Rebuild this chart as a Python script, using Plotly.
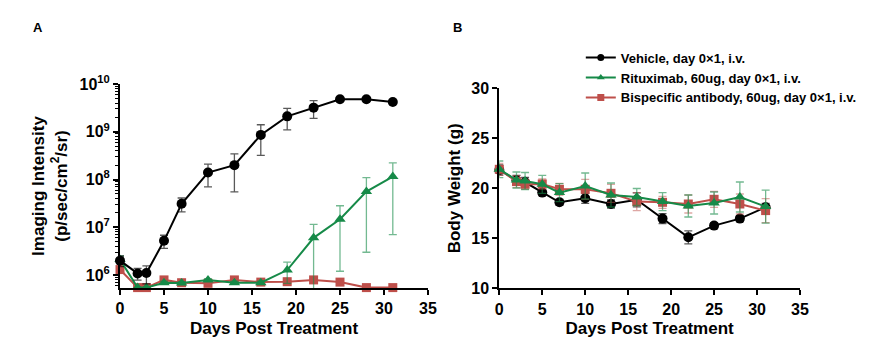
import plotly.graph_objects as go

days = [0, 2, 3, 5, 7, 10, 13, 16, 19, 22, 25, 28, 31]

# Panel A: imaging intensity (p/sec/cm2/sr)
veh_img = [2.0e6, 1.08e6, 1.1e6, 5.2e6, 3.1e7, 1.4e8, 2.0e8, 8.6e8, 2.1e9, 3.2e9, 4.8e9, 4.8e9, 4.2e9]
veh_img_err = [0.5e6, 0.3e6, 0.45e6, 1.6e6, 1.0e7, 7.0e7, 1.45e8, 5.4e8, 1.0e9, 1.3e9, 0.2e9, 0.2e9, 0.2e9]
rit_img = [2.1e6, 5.45e5, 5.45e5, 6.9e5, 6.8e5, 7.85e5, 6.9e5, 6.9e5, 1.27e6, 6.0e6, 1.47e7, 5.6e7, 1.15e8]
rit_img_err = [0.4e6, 0, 0, 0.05e6, 0.05e6, 0.05e6, 0.05e6, 0.05e6, 0.6e6, 5.5e6, 1.35e7, 5.3e7, 1.08e8]
bis_img = [1.3e6, 5.45e5, 5.45e5, 7.9e5, 6.9e5, 6.7e5, 7.9e5, 7.1e5, 7.25e5, 7.9e5, 7.1e5, 5.45e5, 5.45e5]
bis_img_err = [0.1e6, 0, 0, 0.05e6, 0.05e6, 0.05e6, 0.05e6, 0.05e6, 0.05e6, 0.05e6, 0.05e6, 0, 0]

# Panel B: body weight (g)
veh_bw = [21.83, 20.8, 20.6, 19.57, 18.6, 19.0, 18.43, 18.85, 16.97, 15.1, 16.27, 16.97, 18.1]
veh_bw_err = [0.5, 0.5, 0.5, 0.3, 0.3, 0.5, 0.4, 0.7, 0.5, 0.65, 0.3, 0.3, 0.4]
rit_bw = [21.9, 20.83, 20.73, 20.4, 19.57, 20.23, 19.33, 19.13, 18.67, 18.23, 18.53, 19.13, 18.17]
rit_bw_err = [0.83, 0.8, 0.85, 0.9, 0.9, 1.3, 1.2, 0.85, 0.9, 1.1, 1.1, 1.5, 1.65]
bis_bw = [21.9, 20.67, 20.4, 20.43, 19.9, 19.9, 19.5, 18.67, 18.6, 18.43, 18.9, 18.43, 17.77]
bis_bw_err = [0.6, 0.6, 0.5, 0.5, 0.6, 1.0, 0.9, 0.9, 0.6, 0.9, 0.8, 1.0, 1.2]

names = ["Vehicle, day 0\u00d71, i.v.",
         "Rituximab, 60ug, day 0\u00d71, i.v.",
         "Bispecific antibody, 60ug, day 0\u00d71, i.v."]
colors = ["#000000", "#168A48", "#BE4F4A"]
err_colors = ["rgba(0,0,0,0.65)", "rgba(22,138,72,0.6)", "rgba(190,79,74,0.5)"]
symbols = ["circle", "triangle-up", "square"]
msizes = [10, 10, 9]

x_ticks = [0, 5, 10, 15, 20, 25, 30, 35]
log_ticks = [1e6, 1e7, 1e8, 1e9, 1e10]
log_labels = ["10<sup>6</sup>", "10<sup>7</sup>", "10<sup>8</sup>", "10<sup>9</sup>", "10<sup>10</sup>"]
bw_ticks = [10, 15, 20, 25, 30]

FONT = "Liberation Sans"
W, H, OFF = 878, 361, 8  # page body margin offset


def px_x(p):
    return (p - OFF) / W


def px_y(p):
    return 1 - (p - OFF) / H


fig = go.Figure()

img_series = [(veh_img, veh_img_err), (rit_img, rit_img_err), (bis_img, bis_img_err)]
bw_series = [(veh_bw, veh_bw_err), (rit_bw, rit_bw_err), (bis_bw, bis_bw_err)]

order_a = [2, 1, 0]
for i in order_a:
    y, e = img_series[i]
    fig.add_trace(go.Scatter(
        x=days, y=y, mode="lines+markers", xaxis="x", yaxis="y",
        line=dict(color=colors[i], width=2),
        marker=dict(symbol=symbols[i], size=msizes[i], color=colors[i]),
        error_y=dict(type="data", array=e, color=err_colors[i], thickness=1.3, width=4),
        cliponaxis=False, showlegend=False))

order_b = [0, 2, 1]
for i in order_b:
    y, e = bw_series[i]
    fig.add_trace(go.Scatter(
        x=days, y=y, mode="lines+markers", xaxis="x2", yaxis="y2",
        line=dict(color=colors[i], width=2),
        marker=dict(symbol=symbols[i], size=msizes[i], color=colors[i]),
        error_y=dict(type="data", array=e, color=err_colors[i], thickness=1.3, width=4),
        cliponaxis=False, name=names[i], showlegend=False))

for i in range(3):
    fig.add_trace(go.Scatter(
        x=[None], y=[None], mode="lines+markers", xaxis="x2", yaxis="y2",
        line=dict(color=colors[i], width=2),
        marker=dict(symbol=symbols[i], size=7, color=colors[i]),
        name=names[i], showlegend=True))

minor_vals = [m * 10 ** p for p in range(5, 10) for m in range(2, 10)]

axis_common = dict(
    showgrid=False, zeroline=False, showline=True, linecolor="black", linewidth=2,
    ticks="outside", ticklen=5, tickwidth=2, tickcolor="black", automargin=False,
    tickfont=dict(family=FONT, size=16, color="black", weight="bold"),
    title_font=dict(family=FONT, size=17, color="black", weight="bold"),
)

fig.update_layout(
    width=W, height=H,
    margin=dict(l=0, r=0, t=0, b=0),
    paper_bgcolor="white", plot_bgcolor="white",
    xaxis=dict(domain=[px_x(120), px_x(428)], range=[0, 35], tickvals=x_ticks,
               title=dict(text="Days Post Treatment", standoff=6), anchor="y", **axis_common),
    yaxis=dict(domain=[px_y(288), px_y(84)], type="log", range=[5.728, 10],
               tickvals=log_ticks, ticktext=log_labels, anchor="x",
               title=dict(text="Imaging Intensity<br>(p/sec/cm<sup>2</sup>/sr)", standoff=8),
               minor=dict(tickvals=minor_vals, ticks="outside", ticklen=3, tickwidth=1,
                          tickcolor="black", showgrid=False),
               **axis_common),
    xaxis2=dict(domain=[px_x(499.3), px_x(800)], range=[0, 35], tickvals=x_ticks,
                title=dict(text="Days Post Treatment", standoff=6), anchor="y2", **axis_common),
    yaxis2=dict(domain=[px_y(288.3), px_y(88.3)], range=[10, 30], tickvals=bw_ticks, anchor="x2",
                title=dict(text="Body Weight (g)", standoff=6), **axis_common),
    legend=dict(x=0.6524, y=0.904, xanchor="left", yanchor="top",
                font=dict(family=FONT, size=13, color="black", weight="bold"),
                bgcolor="rgba(0,0,0,0)", tracegroupgap=0, itemwidth=30),
    annotations=[
        dict(text="<b>A</b>", x=px_x(38), y=px_y(27.5), xref="paper", yref="paper",
             xanchor="center", yanchor="middle",
             showarrow=False, font=dict(family=FONT, size=13, color="black")),
        dict(text="<b>B</b>", x=px_x(457.5), y=px_y(27.5), xref="paper", yref="paper",
             xanchor="center", yanchor="middle",
             showarrow=False, font=dict(family=FONT, size=13, color="black")),
    ],
)

fig.write_html("out.html")
